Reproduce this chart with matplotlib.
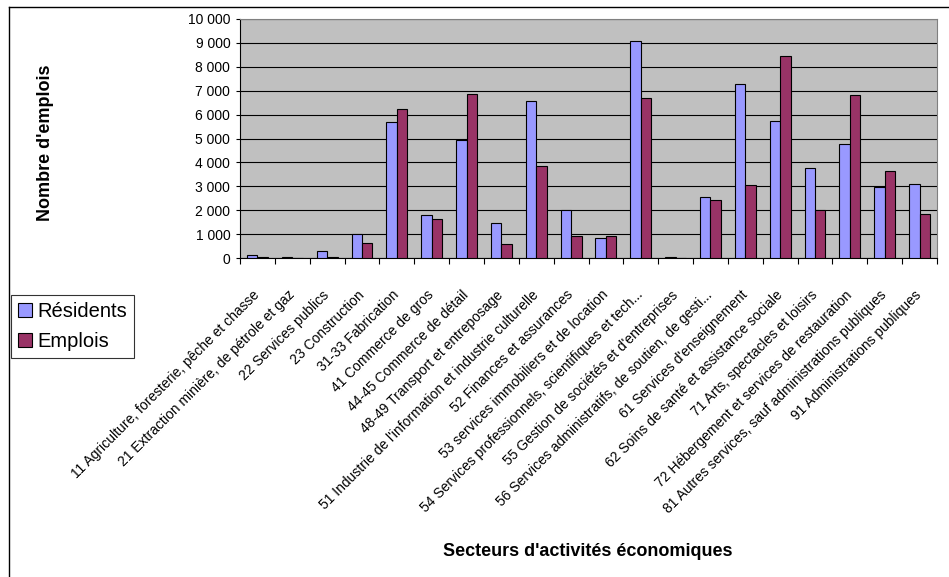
import matplotlib
matplotlib.use('Agg')
import matplotlib.pyplot as plt
from matplotlib.lines import Line2D
from matplotlib.ticker import FuncFormatter
import numpy as np

plt.rcParams['font.family'] = ['Liberation Sans', 'DejaVu Sans']

# data
secteurs = [
    "11 Agriculture, foresterie, pêche et chasse",
    "21 Extraction minière, de pétrole et gaz",
    "22 Services publics",
    "23 Construction",
    "31-33 Fabrication",
    "41 Commerce de gros",
    "44-45 Commerce de détail",
    "48-49 Transport et entreposage",
    "51 Industrie de l'information et industrie culturelle",
    "52 Finances et assurances",
    "53 services immobiliers et de location",
    "54 Services professionnels, scientifiques et tech...",
    "55 Gestion de sociétés et d'entreprises",
    "56 Services administratifs, de soutien, de gesti...",
    "61 Services d'enseignement",
    "62 Soins de santé et assistance sociale",
    "71 Arts, spectacles et loisirs",
    "72 Hébergement et services de restauration",
    "81 Autres services, sauf administrations publiques",
    "91 Administrations publiques",
]
residents = [140, 30, 290, 1020, 5670, 1780, 4940, 1480, 6550, 1990,
             840, 9080, 40, 2550, 7280, 5720, 3760, 4760, 2990, 3090]
emplois = [40, 10, 40, 630, 6220, 1630, 6850, 590, 3840, 920,
           920, 6690, 0, 2440, 3050, 8470, 2020, 6830, 3620, 1830]

fig = plt.figure(figsize=(9.49, 5.77), dpi=100)
ax = fig.add_axes([240/949, 1-258/577, (937-240)/949, (258-19)/577])
ax.set_facecolor('#C0C0C0')

n = len(secteurs)
x = np.arange(n)
w = 0.3
ax.bar(x - w/2, residents, w, color='#9999FF', edgecolor='black', linewidth=0.8,
       label='Résidents', zorder=3)
ax.bar(x + w/2, emplois, w, color='#993366', edgecolor='black', linewidth=0.8,
       label='Emplois', zorder=3)

ax.set_xlim(-0.5, n - 0.5)
ax.set_ylim(0, 10000)
ax.set_yticks(np.arange(0, 10001, 1000))
ax.yaxis.set_major_formatter(FuncFormatter(lambda v, p: f"{int(v):,}".replace(',', ' ')))
ax.grid(axis='y', color='black', linewidth=0.8, zorder=1)
ax.tick_params(axis='y', length=3, pad=4, labelsize=10)

# ticks on category boundaries, labels at centres
ax.set_xticks(np.arange(-0.5, n, 1))
ax.set_xticklabels([])
ax.tick_params(axis='x', which='major', length=4, direction='out')
ax.set_xticks(x, minor=True)
ax.set_xticklabels(secteurs, minor=True, rotation=45, ha='right', va='center',
                   rotation_mode='anchor', fontsize=10)
ax.tick_params(axis='x', which='minor', length=0, pad=25)

for s in ['top', 'right']:
    ax.spines[s].set_color('#808080')

fig.text(46/949, 1-143/577, "Nombre d'emplois", fontsize=13, fontweight='bold',
         rotation=90, ha='center', va='center')
fig.text(588/949, 1-552/577, "Secteurs d'activités économiques", fontsize=13,
         fontweight='bold', ha='center', va='center')

leg = fig.legend(loc='upper left', bbox_to_anchor=(11/949, 1-295/577),
                 fontsize=14.5, frameon=True, fancybox=False, borderpad=0.35,
                 handlelength=0.7, handleheight=0.7, handletextpad=0.25,
                 labelspacing=0.55, borderaxespad=0)
leg.get_frame().set_edgecolor('black')
leg.get_frame().set_linewidth(0.8)

# outer chart border (top and left)
fig.add_artist(Line2D([9/949, 1], [1-7/577, 1-7/577], color='black', linewidth=1))
fig.add_artist(Line2D([9/949, 9/949], [0, 1-7/577], color='black', linewidth=1))

plt.savefig('out.png', dpi=100)
